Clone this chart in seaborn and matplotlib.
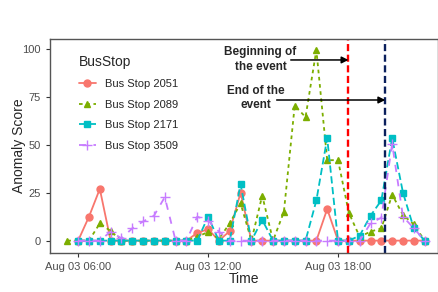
import pandas as pd
import seaborn as sns
import matplotlib.pyplot as plt
import matplotlib.dates as mdates

# half-hourly readings on Aug 03
times = ["05:30", "06:00", "06:30", "07:00", "07:30", "08:00", "08:30", "09:00",
         "09:30", "10:00", "10:30", "11:00", "11:30", "12:00", "12:30", "13:00",
         "13:30", "14:00", "14:30", "15:00", "15:30", "16:00", "16:30", "17:00",
         "17:30", "18:00", "18:30", "19:00", "19:30", "20:00", "20:30", "21:00",
         "21:30", "22:00"]

stop_2051 = [None, 0, 12.5, 27, 0, 0, 0, 0, 0, 0, 0, 0, 4, 6, 0, 5, 25, 0,
             0, 0, 0, 0, 0, 0, 16.5, 0, 0, 0, 0, 0, 0, 0, 0, 0]
stop_2089 = [0, 0, 0, 9, 5, 0, 0, 0, 0, 0, 0, 0, 2, 4.5, 1, 9, 19.5, 0,
             23.5, 0, 15, 70.5, 64.5, 99.5, 42, 42, 14.5, 2, 4.7, 6.4, 24, 13.4, 8.5, 0]
stop_2171 = [None, 0, 0, 0, 0, 0, 0, 0, 0, 0, 0, 0, 0, 12.5, 0, 0, 29.5, 0,
             10.8, 0, 0, 0, 0, 21, 53.5, 0, 0, 2.6, 13, 21, 53.5, 25, 6.4, 0]
stop_3509 = [None, 0, 0, 0, 4.7, 1.2, 6.4, 10, 13, 22.7, 0, 0, 12.5, 10.5, 4.7, 0, 0, 0,
             0, 0, 0, 0, 0, 0, 0, 0, 0, 0, 9, 12, 50.5, 12.5, 6.5, 0]

stops = ["Bus Stop 2051", "Bus Stop 2089", "Bus Stop 2171", "Bus Stop 3509"]
colors = ["#F8766D", "#7CAE00", "#00BFC4", "#C77CFF"]
markers = ["o", "^", "s", "+"]
dashes = [(None, None), (0, (2, 2)), (0, (4, 2)), (0, (4, 4))]
event_start = "2019-08-03 18:29"
event_end = "2019-08-03 20:11"

sns.set_style("ticks")
plt.rcParams["font.family"] = ["Liberation Sans", "DejaVu Sans"]

fig = plt.figure(figsize=(4.38, 2.92), dpi=100)
ax = fig.add_axes([50 / 438, 1 - 252.7 / 292, 388 / 438, 214.2 / 292])

handles = []
for name, vals, col, mk, ds in zip(stops, [stop_2051, stop_2089, stop_2171, stop_3509],
                                   colors, markers, dashes):
    d = pd.DataFrame({
        "Time": pd.to_datetime("2019-08-03 " + pd.Series(times)),
        "Anomaly Score": pd.Series(vals, dtype=float),
    }).dropna()
    sns.lineplot(data=d, x="Time", y="Anomaly Score", color=col, marker=mk,
                 markersize=7 if mk == "+" else 5, linewidth=1.3, ax=ax)
    ln = ax.lines[-1]
    if ds[0] is not None:
        ln.set_linestyle(ds)
    ln.set_markeredgecolor(col)
    ln.set_markeredgewidth(1.0)
    ln.set_label(name)
    handles.append(ln)

ax.axvline(pd.Timestamp(event_start), color="#FF0000", linestyle=(0, (3, 1.5)), linewidth=1.7)
ax.axvline(pd.Timestamp(event_end), color="#0A1F5C", linestyle=(0, (3, 1.5)), linewidth=1.7)

ax.annotate("", xy=(pd.Timestamp(event_start), 94.3), xytext=(pd.Timestamp("2019-08-03 15:49"), 94.3),
            arrowprops=dict(arrowstyle="-|>", color="black", lw=1.1, mutation_scale=10, shrinkA=0, shrinkB=0))
ax.annotate("", xy=(pd.Timestamp(event_end), 73.4), xytext=(pd.Timestamp("2019-08-03 15:10"), 73.4),
            arrowprops=dict(arrowstyle="-|>", color="black", lw=1.1, mutation_scale=10, shrinkA=0, shrinkB=0))
ax.text(pd.Timestamp("2019-08-03 14:25"), 94.5, "Beginning of\nthe event", ha="center", va="center",
        fontsize=8.5, fontweight="bold", linespacing=1.25)
ax.text(pd.Timestamp("2019-08-03 14:12"), 74.5, "End of the\nevent", ha="center", va="center",
        fontsize=8.5, fontweight="bold", linespacing=1.25)

ax.set_xlim(pd.Timestamp("2019-08-03 04:42"), pd.Timestamp("2019-08-03 22:37"))
ax.set_ylim(-6.3, 105.5)
ax.set_yticks([0, 25, 50, 75, 100])
ax.set_xticks(pd.to_datetime(["2019-08-03 06:00", "2019-08-03 12:00", "2019-08-03 18:00"]))
ax.xaxis.set_major_formatter(mdates.DateFormatter("%b %d %H:%M"))
ax.tick_params(labelsize=8, labelcolor="#4D4D4D", color="#333333", length=3, width=0.8)
for sp in ax.spines.values():
    sp.set_visible(True)
    sp.set_color("#555555")
    sp.set_linewidth(1.0)

ax.set_xlabel("Time", fontsize=10)
ax.set_ylabel("Anomaly Score", fontsize=10)
ax.xaxis.set_label_coords(0.5, -0.092)
ax.yaxis.set_label_coords(-0.063, 0.5)

leg = ax.legend(handles, stops, title="BusStop",
                loc="upper left", bbox_to_anchor=(0.075, 0.925), frameon=False,
                fontsize=8, title_fontsize=10, handlelength=1.5, handletextpad=0.8,
                labelspacing=0.95, borderpad=0, borderaxespad=0)
leg._legend_box.align = "left"

fig.savefig("out.png", dpi=100)
